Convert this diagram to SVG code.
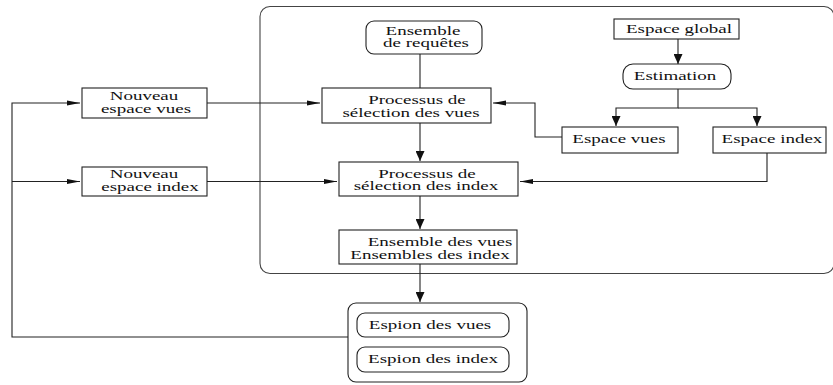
<svg xmlns="http://www.w3.org/2000/svg" width="833" height="385" viewBox="0 0 833 385">
<style>
  .box { fill: #fff; stroke: #222; stroke-width: 1.1; }
  .cont { fill: none; stroke: #444; stroke-width: 1.1; }
  .ln { fill: none; stroke: #222; stroke-width: 1.1; }
  .t { font-family: 'Liberation Serif', 'DejaVu Serif', serif; font-size: 12.5px; fill: #111; text-anchor: middle; }
</style>
<defs>
  <marker id="ah" markerUnits="userSpaceOnUse" markerWidth="14" markerHeight="7" refX="13" refY="3" orient="auto">
    <path d="M0,0.6 L13,3 L0,5.4 z" fill="#111"/>
  </marker>
  <marker id="av" markerUnits="userSpaceOnUse" markerWidth="11" markerHeight="9" refX="10" refY="4.5" orient="auto">
    <path d="M0,0 L10,4.5 L0,9 z" fill="#111"/>
  </marker>
</defs>

<rect id="container" class="cont" x="260" y="6.5" width="574" height="267" rx="10"/>

<g id="connectors">
  <path class="ln" d="M420,54 V88"/>
  <path class="ln" d="M420,123 V161" marker-end="url(#av)"/>
  <path class="ln" d="M420,196 V229" marker-end="url(#av)"/>
  <path class="ln" d="M420,264 V302" marker-end="url(#av)"/>
  <path class="ln" d="M678,39 V64" marker-end="url(#av)"/>
  <path class="ln" d="M678,89 V108 H616 V126" marker-end="url(#av)"/>
  <path class="ln" d="M678,108 H757 V126" marker-end="url(#av)"/>
  <path class="ln" d="M562,137 H535 V103 H493" marker-end="url(#ah)"/>
  <path class="ln" d="M767,153 V181.5 H520" marker-end="url(#ah)"/>
  <path class="ln" d="M207,103 H320" marker-end="url(#ah)"/>
  <path class="ln" d="M207,181.5 H337" marker-end="url(#ah)"/>
  <path class="ln" d="M348,337 H12 V103 H80" marker-end="url(#ah)"/>
  <path class="ln" d="M12,181.5 H80" marker-end="url(#ah)"/>
</g>

<g id="nouveau-vues">
  <rect class="box" x="82" y="88" width="125" height="30"/>
  <text class="t" font-family="Liberation Serif, serif" transform="translate(144,100) scale(1.52,1)">Nouveau</text>
  <text class="t" font-family="Liberation Serif, serif" transform="translate(146,112.5) scale(1.52,1)">espace vues</text>
</g>
<g id="nouveau-index">
  <rect class="box" x="82" y="167" width="125" height="29"/>
  <text class="t" font-family="Liberation Serif, serif" transform="translate(144,178) scale(1.52,1)">Nouveau</text>
  <text class="t" font-family="Liberation Serif, serif" transform="translate(150,190.5) scale(1.52,1)">espace index</text>
</g>
<g id="ensemble-requetes">
  <rect class="box" x="366" y="21" width="116" height="33" rx="8"/>
  <text class="t" font-family="Liberation Serif, serif" transform="translate(423,34.5) scale(1.52,1)">Ensemble</text>
  <text class="t" font-family="Liberation Serif, serif" transform="translate(426,47) scale(1.52,1)">de requêtes</text>
</g>
<g id="processus-vues">
  <rect class="box" x="322" y="88" width="169" height="35"/>
  <text class="t" font-family="Liberation Serif, serif" transform="translate(417,104) scale(1.52,1)">Processus de</text>
  <text class="t" font-family="Liberation Serif, serif" transform="translate(411,116.5) scale(1.52,1)">sélection des vues</text>
</g>
<g id="processus-index">
  <rect class="box" x="339" y="162" width="179" height="34"/>
  <text class="t" font-family="Liberation Serif, serif" transform="translate(427,177.5) scale(1.52,1)">Processus de</text>
  <text class="t" font-family="Liberation Serif, serif" transform="translate(426,190) scale(1.52,1)">sélection des index</text>
</g>
<g id="ensemble-vues-index">
  <rect class="box" x="339" y="230" width="178" height="34"/>
  <text class="t" font-family="Liberation Serif, serif" transform="translate(440,246) scale(1.52,1)">Ensemble des vues</text>
  <text class="t" font-family="Liberation Serif, serif" transform="translate(430,258.5) scale(1.52,1)">Ensembles des index</text>
</g>
<g id="espions">
  <rect class="box" x="348" y="303" width="179" height="79" rx="8"/>
  <rect class="box" x="357" y="313" width="152" height="24" rx="8"/>
  <text class="t" font-family="Liberation Serif, serif" transform="translate(430,329) scale(1.52,1)">Espion des vues</text>
  <rect class="box" x="357" y="347" width="152" height="25" rx="8"/>
  <text class="t" font-family="Liberation Serif, serif" transform="translate(433,363) scale(1.52,1)">Espion des index</text>
</g>
<g id="espace-global">
  <rect class="box" x="614" y="19" width="125" height="20"/>
  <text class="t" font-family="Liberation Serif, serif" transform="translate(679,32.5) scale(1.52,1)">Espace global</text>
</g>
<g id="estimation">
  <rect class="box" x="623" y="64" width="108" height="25" rx="10"/>
  <text class="t" font-family="Liberation Serif, serif" transform="translate(675,80) scale(1.52,1)">Estimation</text>
</g>
<g id="espace-vues">
  <rect class="box" x="562" y="127" width="116" height="26"/>
  <text class="t" font-family="Liberation Serif, serif" transform="translate(619,143) scale(1.52,1)">Espace vues</text>
</g>
<g id="espace-index">
  <rect class="box" x="713" y="127" width="113" height="26"/>
  <text class="t" font-family="Liberation Serif, serif" transform="translate(772,143) scale(1.52,1)">Espace index</text>
</g>
</svg>
